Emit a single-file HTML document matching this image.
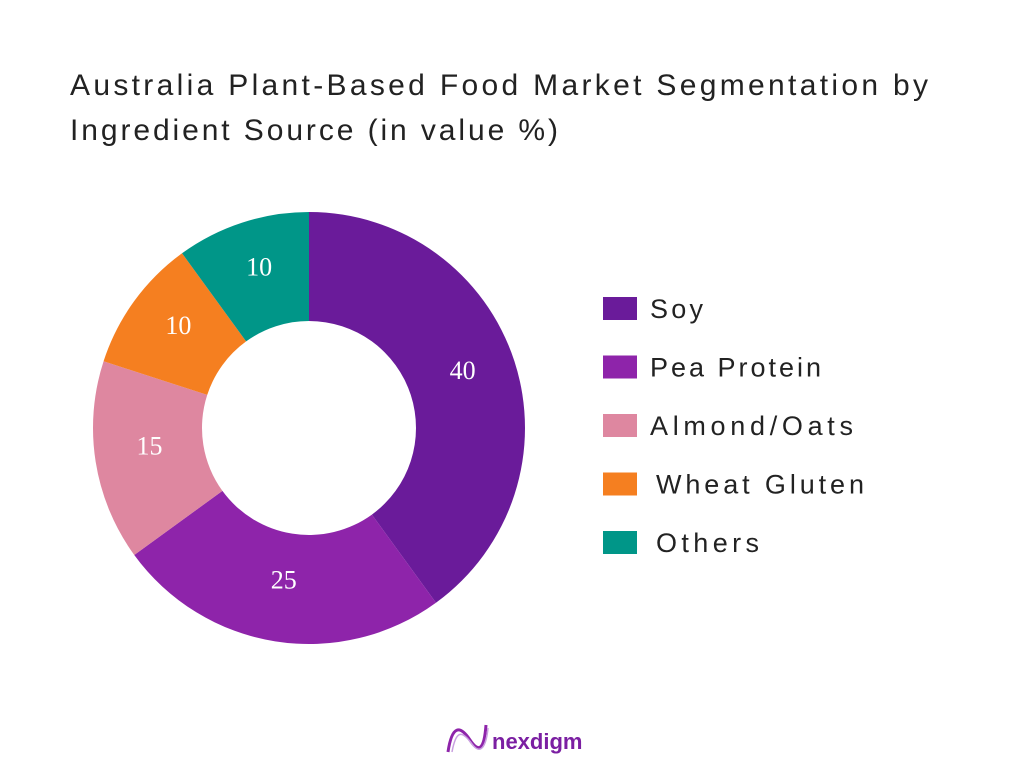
<!DOCTYPE html>
<html><head><meta charset="utf-8"><style>
body{margin:0;width:1024px;height:768px;background:#fff;font-family:"Liberation Sans",sans-serif;overflow:hidden}
</style></head><body>
<svg id="c" width="1024" height="768">
<text x="70" y="95" font-size="30" fill="#222" textLength="858" lengthAdjust="spacing">Australia Plant-Based Food Market Segmentation by</text>
<text x="70" y="140" font-size="30" fill="#222" textLength="488" lengthAdjust="spacing">Ingredient Source (in value %)</text>
<g id="slices"></g><g id="labels"></g><g id="legend"></g>
<g>
<path d="M448 752 C452 725,460 725,470 740 C478 752,484 752,486 725" stroke="#8e24aa" stroke-width="3" fill="none"/>
<path d="M452 752 C456 730,462 730,472 744 C480 755,486 748,488 728" stroke="#c9a0e0" stroke-width="1.5" fill="none"/>
<text x="492" y="749" font-size="22" font-weight="bold" fill="#7b1fa2">nexdigm</text>
</g>
</svg>
<script>
const categories=["Soy","Pea Protein","Almond/Oats","Wheat Gluten","Others"];
const values=[40,25,15,10,10];
const colors=["#6a1b9a","#8e24aa","#de87a0","#f57f20","#009688"];
const legendWidths=[53,171,203,208,103];
const ns="http://www.w3.org/2000/svg";
const cx=309,cy=428,R=216,r=107;
const total=values.reduce((a,b)=>a+b,0);
const S=document.getElementById('slices'),L=document.getElementById('labels'),G=document.getElementById('legend');
function pt(a,rad){return [cx+rad*Math.sin(a),cy-rad*Math.cos(a)];}
let acc=0;
values.forEach((v,i)=>{
 const a0=acc/total*2*Math.PI;acc+=v;const a1=acc/total*2*Math.PI;
 const lg=(a1-a0)>Math.PI?1:0;
 const [x0,y0]=pt(a0,R),[x1,y1]=pt(a1,R),[x2,y2]=pt(a1,r),[x3,y3]=pt(a0,r);
 const p=document.createElementNS(ns,'path');
 p.setAttribute('d',`M${x0} ${y0}A${R} ${R} 0 ${lg} 1 ${x1} ${y1}L${x2} ${y2}A${r} ${r} 0 ${lg} 0 ${x3} ${y3}Z`);
 p.setAttribute('fill',colors[i]);
 
 
 S.appendChild(p);
 const [lx,ly]=pt((a0+a1)/2,(R+r)/2);
 const t=document.createElementNS(ns,'text');
 t.setAttribute('x',lx);t.setAttribute('y',ly+1);t.setAttribute('text-anchor','middle');
 t.setAttribute('font-size','26');t.setAttribute('fill','#fff');t.setAttribute('font-family','Liberation Serif,serif');
 t.textContent=v;
 
 
 L.appendChild(t);
 const y=297+i*58.5;
 const rc=document.createElementNS(ns,'rect');
 rc.setAttribute('x',603);rc.setAttribute('y',y);rc.setAttribute('width',34);rc.setAttribute('height',23);rc.setAttribute('fill',colors[i]);
 
 
 G.appendChild(rc);
 const lt=document.createElementNS(ns,'text');
 lt.setAttribute('x',i>=3?656:650);lt.setAttribute('y',y+21);lt.setAttribute('font-size','27');lt.setAttribute('fill','#222');
 lt.setAttribute('textLength',legendWidths[i]);lt.setAttribute('lengthAdjust','spacing');
 lt.textContent=categories[i];
 
 
 G.appendChild(lt);
});
</script>
</body></html>
